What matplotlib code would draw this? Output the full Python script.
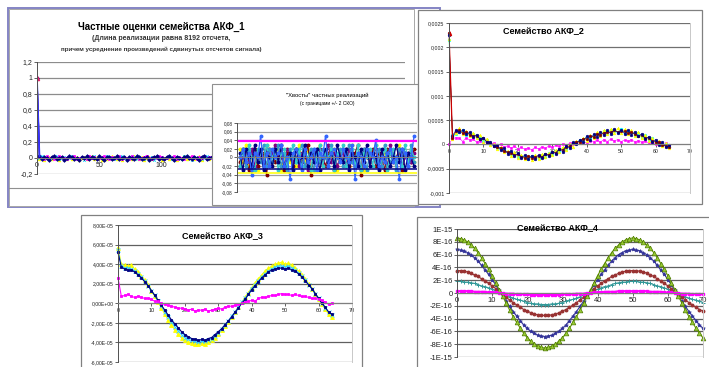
import numpy as np
import matplotlib.pyplot as plt
from matplotlib.patches import Rectangle
from matplotlib.lines import Line2D

plt.rcParams['font.family'] = ['Liberation Sans', 'DejaVu Sans']

W, H = 709, 367

# ---------------- данные ----------------
# АКФ_1: частные оценки, каждый второй лаг (в сотых долях)
acf1_navy = np.array([100, 2, -1, 1, 0, -2, 1, 2, -1, 0, 1, -2, 0, 2, 1, -1, 0, -2, 1, 0, 2, -1, 1, 0,
                      -1, 2, 0, -2, 1, 1, -1, 0, 2, -1, 0, 1, -2, 1, 0, -1, 2, 1, -1, 0, 1, -2, 0, 1,
                      2, -1, 0, -1, 1, 2, 0, -2, 1, 0, -1, 1, 2, 0, -1, 1, 0, -2, 1, 2, -1, 0, 1]) * 0.01
acf1_yellow = np.array([100, -1, 1, -2, 0, 1, -1, 2, 0, -2, 1, 0, -1, 2, -1, 0, 1, -2, 0, 1, -1, 0, 2, -1,
                        1, 0, -2, 1, -1, 0, 2, 1, -1, 0, -2, 1, 0, 1, -1, 2, 0, -1, 1, -2, 0, 1, -1, 0,
                        2, 1, -2, 0, 1, -1, 0, 1, -2, 1, 0, 2, -1, 0, 1, -1, 0, 2, -2, 1, 0, -1, 1]) * 0.01
acf1_cyan = np.array([100, 0, 2, -1, 1, -1, 0, 1, 2, -1, 0, 1, -1, 0, 2, 1, -1, 0, 1, -2, 0, 1, 0, 2,
                      -1, 1, 0, -1, 2, 0, 1, -1, 0, 1, 2, 0, -1, 0, 2, 1, -1, 1, 0, -1, 2, 0, 1, -2,
                      0, 1, 1, -1, 0, 2, -1, 0, 1, 0, -1, 2, 1, 0, -2, 1, 0, 1, -1, 0, 2, 1, 0]) * 0.01
acf1_magenta = np.array([100, 1, 0, -1, 2, 0, 1, -1, 0, 2, 1, 0, -1, 1, 0, 2, -1, 0, 1, 0, -1, 3, 0, 1,
                         -1, 0, 1, 2, 0, -1, 1, 0, 0, 2, -1, 1, 0, -1, 2, 0, 1, -1, 0, 1, 3, 0, -1, 1,
                         0, 2, 1, -1, 0, 1, 0, 2, -1, 1, 0, -1, 1, 0, 2, 0, -1, 1, 0, 2, -1, 1, 0]) * 0.01
acf1_lag_step = 2
acf1_yticks = [-0.2, 0, 0.2, 0.4, 0.6, 0.8, 1.0, 1.2]
acf1_ylabels = ['-0,2', '0', '0,2', '0,4', '0,6', '0,8', '1', '1,2']
acf1_xticks = [0, 50, 100, 150, 200, 250]

# "Хвосты" частных реализаций (в сотых долях)
tail_navy = np.array([1, -3, 2, 0, -2, 3, -1, 2, -3, 1, 0, -2, 2, -1, 3, -2, 0, 1, -3, 2, -1, 0, 3, -2,
                      1, -1, 2, -3, 0, 2, -1, 1, -2, 3, 0, -1, 2, -3, 1, 0, -2, 2, -1, 3, -2, 1, 0, -3,
                      2, -1, 1, -2, 0, 3, -1, 2, -3, 1, 0, -2]) * 0.01
tail_cyan = np.array([-2, 2, -1, 3, 0, -3, 2, 1, -2, 3, -1, 0, 2, -3, 1, 2, -2, 0, 3, -1, 2, -2, 1, 0,
                      -3, 2, -1, 3, -2, 1, 0, 2, -3, 1, -1, 3, -2, 0, 2, -1, 3, -3, 1, 0, 2, -2, 3, -1,
                      0, 2, -3, 1, 2, -1, 0, -2, 3, -1, 2, 0]) * 0.01
tail_teal = np.array([0, 1, -2, 2, -3, 1, 0, -1, 3, -2, 2, -1, 0, 3, -2, 1, -3, 2, 0, -1, 1, 3, -2, 0,
                      2, -3, 1, -1, 2, 0, -2, 3, -1, 0, 2, -2, 1, 3, -1, -2, 0, 1, 2, -3, 1, 0, -1, 2,
                      -2, 3, 0, -1, 1, -3, 2, 0, 1, -2, 3, -1]) * 0.01
tail_red = np.array([-1, 2, 0, -3, 1, 2, -2, 0, 1, -4, 2, 1, -1, 0, 2, -3, 1, 0, -2, 2, 1, -1, 0, 3,
                     -4, 1, 2, -1, 0, -2, 1, 2, -3, 0, 1, -1, 2, -2, 0, 1, 3, -4, 1, 0, -1, 2, -2, 1,
                     0, -3, 2, 1, -1, 0, 2, -3, 1, 0, -1, 2]) * 0.01
tail_yellow = np.array([2, -1, 3, -2, 0, 1, -3, 2, -1, 3, 0, -2, 1, 2, -3, 0, 2, -1, 1, -2, 3, 0, -1, 2,
                        -3, 1, 0, 3, -2, 1, -1, 0, 2, -3, 1, 2, 0, -2, 3, -1, 1, 0, -3, 2, -1, 1, 3, -2,
                        0, 1, -2, 2, 0, -1, 3, -3, 1, 0, 2, -1]) * 0.01
tail_blue = np.array([0, 2, -1, 1, -4, 1, 0, 5, -2, 1, -2, 2, 0, 1, 3, -2, 0, -5, 1, 2, 0, -3, 2, -1,
                      0, 2, -3, 1, 0, 5, -2, 1, 2, 0, -1, 2, 0, -1, 3, -5, 1, 0, -2, 2, 1, 0, 4, -2,
                      0, -1, 1, 2, -1, 0, -5, 2, 1, -2, 0, 5]) * 0.01
tail_purple = np.array([-2, 0, 1, -1, 2, -2, 1, 0, -1, 2, -2, 1, 3, -1, 0, -2, 2, 1, -1, 0, -2, 1, 2, -3,
                        0, 1, -1, 2, -2, 0, 3, -1, 1, -2, 0, 1, -2, 2, -1, 0, 1, -3, 2, 0, -1, 1, 2, -2,
                        1, 0, -2, 3, 0, -1, 2, -2, 0, 1, -1, 1]) * 0.01
tail_bounds = {'#FF00FF': 0.038, '#000080': -0.026, '#FFFF00': -0.035}
tail_yticks = [-0.08, -0.06, -0.04, -0.02, 0, 0.02, 0.04, 0.06, 0.08]
tail_ylabels = ['-0,08', '-0,06', '-0,04', '-0,02', '0', '0,02', '0,04', '0,06', '0,08']

# АКФ_2 (единицы 1e-4), лаги 0..64
acf2_navy = np.array([22.5, 1.8, 2.9, 2.5, 2.9, 2.1, 2.5, 1.6, 2.0, 1.1, 1.3, 0.4, 0.6, -0.4, -0.2, -1.2,
                      -0.8, -1.9, -1.3, -2.4, -1.8, -2.8, -2.2, -3.0, -2.3, -2.9, -2.2, -2.7, -1.9, -2.4,
                      -1.5, -1.9, -0.9, -1.5, -0.3, -0.8, 0.4, 0.0, 1.0, 0.6, 1.7, 1.0, 2.1, 1.6, 2.6,
                      1.9, 2.9, 2.2, 3.1, 2.4, 3.0, 2.2, 2.9, 2.0, 2.6, 1.7, 2.2, 1.1, 1.6, 0.5, 1.0,
                      -0.1, 0.4, -0.6, -0.2]) * 1e-4
acf2_yellow = np.array([21.8, 1.2, 2.3, 3.3, 2.2, 2.8, 1.8, 2.4, 1.3, 1.9, 0.6, 1.2, -0.1, 0.1, -0.9, -0.6,
                        -1.6, -1.3, -2.3, -1.6, -2.7, -2.1, -3.0, -2.3, -3.2, -2.2, -3.0, -2.0, -2.6, -1.7,
                        -2.2, -1.1, -1.6, -0.6, -1.1, 0.1, -0.5, 0.7, 0.2, 1.4, 0.7, 2.0, 1.3, 2.5, 1.7,
                        2.9, 2.1, 3.2, 2.3, 3.3, 2.4, 3.1, 2.1, 2.9, 1.8, 2.5, 1.3, 2.0, 0.8, 1.4, 0.2,
                        0.8, -0.3, 0.2, -0.8]) * 1e-4
acf2_cyan = np.array([21.5, 2.0, 2.2, 2.6, 3.0, 2.0, 2.4, 2.2, 1.4, 1.6, 0.8, 0.9, 0.0, -0.2, -0.7, -1.0,
                      -1.1, -1.6, -2.0, -1.9, -2.5, -2.3, -2.6, -2.9, -2.4, -2.7, -2.8, -2.1, -2.5, -1.8,
                      -2.0, -1.3, -1.4, -0.7, -0.9, -0.1, 0.2, 0.3, 0.9, 0.8, 1.5, 1.4, 1.7, 2.2, 2.0,
                      2.7, 2.3, 2.9, 2.8, 2.5, 3.2, 2.4, 2.7, 2.6, 2.0, 2.3, 1.5, 1.9, 0.9, 1.3, 0.4,
                      0.6, -0.2, 0.0, -0.5]) * 1e-4
acf2_red = np.array([23.0, 1.4, 2.7, 2.9, 2.3, 2.6, 2.0, 1.7, 1.8, 1.2, 1.4, 0.5, 0.3, -0.3, -0.6, -0.7,
                     -1.4, -1.6, -1.7, -2.2, -2.0, -2.5, -2.7, -2.4, -2.8, -2.5, -2.3, -2.6, -2.0, -2.1,
                     -1.6, -1.7, -1.0, -1.1, -0.5, -0.4, 0.2, 0.5, 0.6, 1.2, 1.1, 1.8, 1.5, 2.2, 2.0,
                     2.4, 2.6, 2.5, 2.9, 2.6, 2.8, 2.7, 2.3, 2.5, 2.1, 1.8, 2.0, 1.3, 1.4, 0.8, 0.5,
                     0.5, -0.1, -0.3, -0.6]) * 1e-4
acf2_magenta = np.array([0.0, 1.2, 1.4, 1.3, 0.6, 1.4, 0.9, 1.1, 0.5, 0.8, 0.3, 0.6, 0.1, 0.2, -0.3, 0.0,
                         -0.5, -0.3, -0.7, -0.4, -0.9, -0.6, -1.0, -0.7, -1.1, -0.6, -0.9, -0.5, -0.8, -0.3,
                         -0.6, -0.2, -0.4, 0.1, -0.2, 0.2, 0.0, 0.4, 0.2, 0.6, 0.3, 0.7, 0.5, 0.9, 0.5,
                         1.0, 0.6, 1.1, 0.7, 1.0, 0.6, 0.9, 0.7, 1.0, 0.5, 0.8, 0.4, 0.7, 0.3, 0.5, 0.1,
                         0.4, -0.1, 0.2, -0.2]) * 1e-4
acf2_yticks = [-0.001, -0.0005, 0, 0.0005, 0.001, 0.0015, 0.002, 0.0025]
acf2_ylabels = ['-0,001', '-0,0005', '0', '0,0005', '0,001', '0,0015', '0,002', '0,0025']
lag_ticks = [0, 10, 20, 30, 40, 50, 60, 70]

# АКФ_3 (единицы 1e-5), лаги 0..64
acf3_navy = np.array([5.2, 3.7, 3.5, 3.4, 3.4, 3.2, 2.9, 2.6, 2.2, 1.8, 1.3, 0.8, 0.3, -0.2, -0.7, -1.2,
                      -1.7, -2.1, -2.5, -2.9, -3.2, -3.4, -3.6, -3.7, -3.8, -3.7, -3.8, -3.6, -3.5, -3.2,
                      -2.9, -2.6, -2.2, -1.8, -1.4, -0.9, -0.5, 0.0, 0.4, 0.9, 1.4, 1.8, 2.2, 2.6, 2.9,
                      3.2, 3.4, 3.5, 3.6, 3.6, 3.5, 3.6, 3.4, 3.3, 3.0, 2.7, 2.3, 1.9, 1.5, 1.0, 0.5,
                      0.0, -0.4, -0.9, -1.1]) * 1e-5
acf3_yellow = np.array([5.7, 4.0, 3.9, 3.8, 3.9, 3.5, 3.2, 2.8, 2.4, 1.9, 1.3, 0.7, 0.1, -0.5, -1.1, -1.7,
                        -2.2, -2.7, -3.1, -3.5, -3.8, -4.0, -4.1, -4.2, -4.2, -4.1, -4.2, -4.0, -3.8, -3.5,
                        -3.1, -2.7, -2.3, -1.9, -1.4, -0.9, -0.4, 0.1, 0.6, 1.1, 1.6, 2.1, 2.5, 2.9, 3.3,
                        3.6, 3.8, 4.0, 4.1, 4.2, 4.0, 4.1, 3.9, 3.6, 3.3, 2.9, 2.5, 2.0, 1.5, 1.0, 0.4,
                        -0.1, -0.6, -1.1, -1.4]) * 1e-5
acf3_cyan = np.array([5.4, 3.8, 3.6, 3.6, 3.5, 3.3, 3.0, 2.7, 2.3, 1.8, 1.3, 0.8, 0.2, -0.3, -0.9, -1.4,
                      -1.9, -2.4, -2.8, -3.2, -3.5, -3.7, -3.8, -3.9, -4.0, -3.9, -3.9, -3.8, -3.6, -3.3,
                      -3.0, -2.6, -2.2, -1.8, -1.3, -0.9, -0.4, 0.1, 0.5, 1.0, 1.5, 1.9, 2.3, 2.7, 3.0,
                      3.3, 3.5, 3.7, 3.8, 3.8, 3.7, 3.8, 3.6, 3.4, 3.1, 2.8, 2.4, 1.9, 1.5, 1.0, 0.5,
                      0.0, -0.5, -0.9, -1.2]) * 1e-5
acf3_magenta = np.array([2.6, 0.7, 0.8, 0.9, 0.7, 0.6, 0.7, 0.6, 0.5, 0.5, 0.4, 0.2, 0.2, 0.0, -0.1, -0.2,
                         -0.3, -0.4, -0.5, -0.5, -0.6, -0.7, -0.6, -0.8, -0.7, -0.7, -0.6, -0.8, -0.7, -0.6,
                         -0.5, -0.6, -0.4, -0.3, -0.3, -0.2, -0.1, 0.0, 0.1, 0.2, 0.3, 0.2, 0.5, 0.6, 0.6,
                         0.7, 0.8, 0.8, 0.9, 1.0, 0.9, 0.9, 0.8, 0.9, 0.8, 0.7, 0.7, 0.6, 0.5, 0.5, 0.4,
                         0.3, 0.1, -0.1, 0.0]) * 1e-5
acf3_yticks = [-6e-5, -4e-5, -2e-5, 0, 2e-5, 4e-5, 6e-5, 8e-5]
acf3_ylabels = ['-6,00E-05', '-4,00E-05', '-2,00E-05', '0,00E+00', '2,00E-05', '4,00E-05', '6,00E-05', '8,00E-05']

# АКФ_4 (единицы 1e-16), лаги 0..70
acf4_green = np.array([8.6, 8.5, 8.3, 8.0, 7.5, 7.0, 6.3, 5.5, 4.6, 3.7, 2.7, 1.6, 0.5, -0.5, -1.6, -2.7,
                       -3.7, -4.6, -5.5, -6.3, -7.0, -7.5, -8.0, -8.3, -8.5, -8.6, -8.5, -8.3, -8.0, -7.5,
                       -7.0, -6.3, -5.5, -4.6, -3.7, -2.7, -1.6, -0.5, 0.5, 1.6, 2.7, 3.7, 4.6, 5.5, 6.3,
                       7.0, 7.5, 8.0, 8.3, 8.5, 8.6, 8.5, 8.3, 8.0, 7.5, 7.0, 6.3, 5.5, 4.6, 3.7, 2.7,
                       1.6, 0.5, -0.5, -1.6, -2.7, -3.7, -4.6, -5.5, -6.3, -7.0]) * 1e-16
acf4_blue = np.array([6.8, 6.7, 6.6, 6.3, 6.0, 5.5, 5.0, 4.3, 3.6, 2.9, 2.1, 1.3, 0.4, -0.4, -1.3, -2.1,
                      -2.9, -3.6, -4.3, -5.0, -5.5, -6.0, -6.3, -6.6, -6.7, -6.8, -6.7, -6.6, -6.3, -6.0,
                      -5.5, -5.0, -4.3, -3.6, -2.9, -2.1, -1.3, -0.4, 0.4, 1.3, 2.1, 2.9, 3.6, 4.3, 5.0,
                      5.5, 6.0, 6.3, 6.6, 6.7, 6.8, 6.7, 6.6, 6.3, 6.0, 5.5, 5.0, 4.3, 3.6, 2.9, 2.1,
                      1.3, 0.4, -0.4, -1.3, -2.1, -2.9, -3.6, -4.3, -5.0, -5.5]) * 1e-16
acf4_red = np.array([3.5, 3.5, 3.4, 3.3, 3.1, 2.8, 2.6, 2.2, 1.9, 1.5, 1.1, 0.7, 0.2, -0.2, -0.7, -1.1,
                     -1.5, -1.9, -2.2, -2.6, -2.8, -3.1, -3.3, -3.4, -3.5, -3.5, -3.5, -3.4, -3.3, -3.1,
                     -2.8, -2.6, -2.2, -1.9, -1.5, -1.1, -0.7, -0.2, 0.2, 0.7, 1.1, 1.5, 1.9, 2.2, 2.6,
                     2.8, 3.1, 3.3, 3.4, 3.5, 3.5, 3.5, 3.4, 3.3, 3.1, 2.8, 2.6, 2.2, 1.9, 1.5, 1.1,
                     0.7, 0.2, -0.2, -0.7, -1.1, -1.5, -1.9, -2.2, -2.6, -2.8]) * 1e-16
acf4_teal = np.array([1.8, 1.8, 1.7, 1.7, 1.6, 1.5, 1.3, 1.1, 1.0, 0.8, 0.6, 0.3, 0.1, -0.1, -0.3, -0.6,
                      -0.8, -1.0, -1.1, -1.3, -1.5, -1.6, -1.7, -1.7, -1.8, -1.8, -1.8, -1.7, -1.7, -1.6,
                      -1.5, -1.3, -1.1, -1.0, -0.8, -0.6, -0.3, -0.1, 0.1, 0.3, 0.6, 0.8, 1.0, 1.1, 1.3,
                      1.5, 1.6, 1.7, 1.7, 1.8, 1.8, 1.8, 1.7, 1.7, 1.6, 1.5, 1.3, 1.1, 1.0, 0.8, 0.6,
                      0.3, 0.1, -0.1, -0.3, -0.6, -0.8, -1.0, -1.1, -1.3, -1.5]) * 1e-16
acf4_magenta = np.array([0.3, 0.3, 0.3, 0.3, 0.3, 0.2, 0.2, 0.2, 0.2, 0.1, 0.1, 0.1, 0.0, 0.0, -0.1, -0.1,
                         -0.1, -0.2, -0.2, -0.2, -0.2, -0.3, -0.3, -0.3, -0.3, -0.3, -0.3, -0.3, -0.3, -0.3,
                         -0.2, -0.2, -0.2, -0.2, -0.1, -0.1, -0.1, 0.0, 0.0, 0.1, 0.1, 0.1, 0.2, 0.2, 0.2,
                         0.2, 0.3, 0.3, 0.3, 0.3, 0.3, 0.3, 0.3, 0.3, 0.3, 0.2, 0.2, 0.2, 0.2, 0.1, 0.1,
                         0.1, 0.0, 0.0, -0.1, -0.1, -0.1, -0.2, -0.2, -0.2, -0.2]) * 1e-16
acf4_yticks = [-1e-15, -8e-16, -6e-16, -4e-16, -2e-16, 0, 2e-16, 4e-16, 6e-16, 8e-16, 1e-15]
acf4_ylabels = ['-1E-15', '-8E-16', '-6E-16', '-4E-16', '-2E-16', '0', '2E-16', '4E-16', '6E-16', '8E-16', '1E-15']

# ---------------- рисование ----------------
fig = plt.figure(figsize=(W / 100, H / 100), dpi=100)


def fig_box(x0, y0, x1, y1):
    return [x0 / W, 1 - y1 / H, (x1 - x0) / W, (y1 - y0) / H]


def frame(x0, y0, x1, y1, z, ec='#8c8c8c', lw=0.8):
    b = fig_box(x0, y0, x1, y1)
    fig.add_artist(Rectangle((b[0], b[1]), b[2], b[3], transform=fig.transFigure,
                             facecolor='white', edgecolor=ec, lw=lw, zorder=z))


def ftext(x, y, s, z, **kw):
    fig.text(x / W, 1 - y / H, s, ha='center', va='center', zorder=z, **kw)


def excel_axes(box, z, xlim, xticks, xlabels, ylim, yticks, ylabels, fs, grid='#808080', xfs=None):
    ax = fig.add_axes(fig_box(*box))
    ax.set_zorder(z)
    # ось X пересекает ось Y в нуле, как в Excel (до установки делений)
    ax.spines['bottom'].set_position(('data', 0))
    ax.set_xlim(*xlim)
    ax.set_ylim(*ylim)
    ax.set_xticks(xticks, xlabels)
    ax.set_yticks(yticks, ylabels)
    ax.spines['bottom'].set_color('#808080')
    ax.spines['left'].set_color('#505050')
    ax.spines['top'].set_visible(False)
    ax.spines['right'].set_color('#c8c8c8')
    for sp in ax.spines.values():
        sp.set_linewidth(0.7)
    ax.yaxis.grid(True, color=grid, lw=0.9)
    ax.set_axisbelow(True)
    ax.tick_params(length=2, width=0.5, pad=1.2, colors='#222222', labelsize=fs)
    if xfs:
        ax.tick_params(axis='x', labelsize=xfs)
    return ax


# --- группа АКФ_1 + хвосты ---
frame(8, 8, 440, 207, 0.5, ec='#8484c4', lw=1.4)
frame(9, 9, 414, 206, 0.6, ec='#a8a8a8', lw=0.7)
fig.add_artist(Line2D([9 / W, 414 / W], [1 - 188 / H, 1 - 188 / H], transform=fig.transFigure,
                      color='#909090', lw=0.8, zorder=0.7))

ax1 = excel_axes((37, 62, 405, 174), 0.8, (0, 295), acf1_xticks, [str(t) for t in acf1_xticks],
                 (-0.2, 1.2), acf1_yticks, acf1_ylabels, 5, grid='#8c8c8c')
ax1.spines['right'].set_visible(False)
lags1 = np.arange(len(acf1_navy)) * acf1_lag_step
for vals, col, mk in [(acf1_yellow, '#FFFF00', '^'), (acf1_cyan, '#00CCFF', 'x'),
                      (acf1_magenta, '#FF00FF', 's'), (acf1_navy, '#000080', 'D')]:
    ax1.plot(lags1, vals, color=col, lw=0.9, marker=mk, ms=1.9, mew=0.5)
ax1.plot(lags1[:2], acf1_navy[:2], color='#3333FF', lw=1.2)
ax1.plot(lags1[:1], acf1_magenta[:1], color='#E0206A', marker='^', ms=3, ls='none')

ftext(161, 27, 'Частные оценки семейства АКФ_1', 0.9, fontsize=7, fontweight='bold')
ftext(161, 39, '(Длина реализации равна 8192 отсчета,', 0.9, fontsize=5, fontweight='bold', color='#333333')
ftext(161, 49, 'причем усреднение произведений сдвинутых отсчетов сигнала)', 0.9, fontsize=4.5,
      fontweight='bold', color='#333333')

frame(212, 84, 418, 205, 1.0, ec='#909090', lw=0.8)
ax2 = excel_axes((237, 123, 417, 192), 1.1, (0, len(tail_navy) + 1), [], [],
                 (-0.08, 0.08), tail_yticks, tail_ylabels, 3.4, grid='#a0a0a0')
ax2.spines['right'].set_visible(False)
lags2 = np.arange(1, len(tail_navy) + 1)
for vals, col in [(tail_yellow, '#FFFF00'), (tail_red, '#800000'), (tail_purple, '#800080'),
                  (tail_teal, '#3399CC'), (tail_cyan, '#33CCCC'), (tail_navy, '#000080'),
                  (tail_blue, '#3366FF')]:
    ax2.plot(lags2, vals, color=col, lw=0.9, marker='o', ms=1.8)
for col, lvl in tail_bounds.items():
    ax2.axhline(lvl, color=col, lw=1.6 if col == '#FF00FF' else 1.1)
ftext(327, 95, '"Хвосты" частных реализаций', 1.2, fontsize=4.2)
ftext(327, 104, '(с границами +/- 2 СКО)', 1.2, fontsize=3.5)

# --- АКФ_2 ---
frame(418, 10, 702, 204, 2.0, ec='#808080', lw=0.9)
ax3 = excel_axes((449, 23, 690, 193), 2.1, (0, 70), lag_ticks, [str(t) for t in lag_ticks],
                 (-0.001, 0.0025), acf2_yticks, acf2_ylabels, 3.8, grid='#707070')
lags3 = np.arange(len(acf2_navy))
for vals, col, mk in [(acf2_magenta, '#FF00FF', 's'), (acf2_cyan, '#00FFFF', 'o'),
                      (acf2_yellow, '#FFFF00', '^'), (acf2_red, '#800000', 'o'),
                      (acf2_navy, '#000080', 'o')]:
    ax3.plot(lags3, vals, color=col, lw=0.4, marker=mk, ms=1.9, mew=0.4, clip_on=False)
ax3.plot(lags3[:2], acf2_red[:2], color='#CC0000', lw=0.9)
ax3.plot([0], [acf2_red[0]], color='#CC0000', marker='^', ms=3, ls='none')
ftext(543, 32, 'Семейство АКФ_2', 2.2, fontsize=6.5, fontweight='bold')

# --- АКФ_3 ---
frame(81, 215, 362, 380, 3.0, ec='#808080', lw=0.9)
ax4 = excel_axes((118, 225, 352, 362), 3.1, (0, 70), lag_ticks, [str(t) for t in lag_ticks],
                 (-6e-5, 8e-5), acf3_yticks, acf3_ylabels, 3.7, grid='#606060', xfs=4)
lags4 = np.arange(len(acf3_navy))
for vals, col, mk, ms in [(acf3_yellow, '#FFFF00', '^', 2.8), (acf3_cyan, '#33CCFF', 'x', 2.2),
                          (acf3_navy, '#000080', 's', 1.6), (acf3_magenta, '#FF00FF', 's', 2.0)]:
    ax4.plot(lags4, vals, color=col, lw=0.8, marker=mk, ms=ms, mew=0.6, clip_on=False)
ftext(222, 237, 'Семейство АКФ_3', 3.2, fontsize=6.5, fontweight='bold')

# --- АКФ_4 ---
frame(417, 217, 715, 380, 3.0, ec='#808080', lw=0.9)
ax5 = excel_axes((457, 229, 703, 357), 3.1, (0, 70), lag_ticks, [str(t) for t in lag_ticks],
                 (-1e-15, 1e-15), acf4_yticks, acf4_ylabels, 5.5, grid='#606060')
lags5 = np.arange(len(acf4_green))
ax5.plot(lags5, acf4_teal, color='#339999', lw=0.8, marker='+', ms=3, mew=0.7, clip_on=False)
ax5.plot(lags5, acf4_red, color='#993333', lw=0.8, marker='o', ms=1.8, clip_on=False)
ax5.plot(lags5, acf4_blue, color='#333399', lw=0.8, marker='*', ms=2.8, mew=0.5, clip_on=False)
ax5.plot(lags5, acf4_green, color='#669900', lw=0.8, marker='^', ms=3.4, mfc='#99CC33',
         mec='#4d7a00', mew=0.5, clip_on=False)
ax5.plot(lags5, acf4_magenta, color='#FF00FF', lw=1.4, marker='s', ms=1.8, clip_on=False)
ftext(557, 229, 'Семейство АКФ_4', 3.2, fontsize=6.5, fontweight='bold')

fig.savefig('out.png', dpi=100, facecolor='white')
